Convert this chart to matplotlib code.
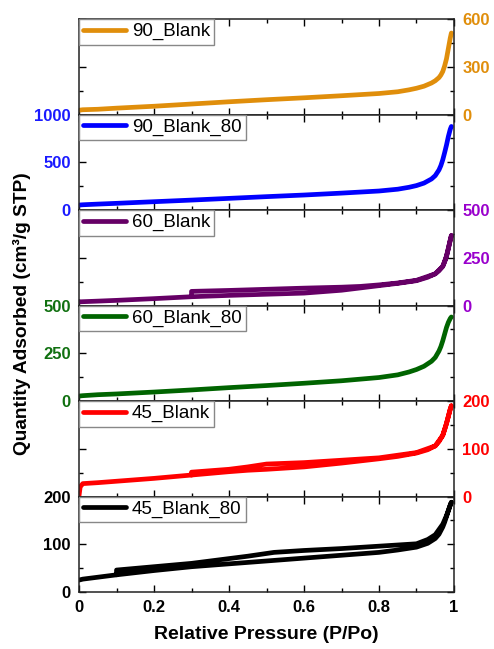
import matplotlib
matplotlib.use("Agg")
import matplotlib.pyplot as plt
from matplotlib.ticker import MultipleLocator, FixedLocator, FixedFormatter

plt.rcParams['font.family'] = ['Liberation Sans', 'DejaVu Sans']

# isotherms, top panel first (adsorption then desorption where there is a loop)
LABELS = ["90_Blank", "90_Blank_80", "60_Blank", "60_Blank_80", "45_Blank", "45_Blank_80"]

P_90 = [0.0, 0.01, 0.05, 0.1, 0.2, 0.3, 0.4, 0.5, 0.6, 0.7, 0.8, 0.85, 0.88, 0.9, 0.92,
        0.94, 0.95, 0.96, 0.965, 0.97, 0.975, 0.98, 0.985, 0.99, 0.993]
Q_90_BLANK = [27, 30, 33, 40, 52, 66, 80, 93, 105, 118, 132, 143, 155, 165, 178,
              198, 212, 232, 248, 270, 305, 350, 415, 480, 512]
Q_90_BLANK_80 = [52, 55, 62, 70, 87, 104, 122, 140, 157, 177, 199, 218, 238, 256, 282,
                 325, 360, 420, 465, 525, 600, 680, 770, 845, 875]
Q_60_BLANK_80 = [26, 28, 33, 37, 47, 58, 70, 81, 93, 106, 123, 137, 152, 165, 182,
                 208, 228, 262, 285, 315, 350, 385, 412, 432, 440]

P_60_BLANK = [0.0, 0.01, 0.05, 0.1, 0.2, 0.3, 0.4, 0.5, 0.6, 0.7, 0.75, 0.8, 0.85, 0.9,
              0.93, 0.95, 0.96, 0.97, 0.975, 0.98, 0.985, 0.99, 0.993,
              0.99, 0.98, 0.97, 0.95, 0.9, 0.85, 0.8, 0.75, 0.7, 0.6, 0.5, 0.4, 0.3, 0.3]
Q_60_BLANK = [19, 20, 23, 27, 36, 46, 53, 59, 65, 80, 92, 104, 116, 130,
              148, 166, 182, 205, 228, 258, 298, 342, 366,
              342, 258, 205, 166, 132, 118, 108, 100, 96, 91, 85, 79, 74, 47]

P_45_BLANK = [0.0, 0.003, 0.01, 0.05, 0.1, 0.2, 0.3, 0.4, 0.45, 0.5, 0.6, 0.7, 0.8, 0.85,
              0.9, 0.93, 0.95, 0.96, 0.97, 0.975, 0.98, 0.985, 0.99, 0.993,
              0.99, 0.98, 0.97, 0.95, 0.9, 0.8, 0.7, 0.6, 0.5, 0.45, 0.4, 0.3, 0.3]
Q_45_BLANK = [2, 20, 27, 29, 32, 38, 45, 52, 55, 57, 62, 70, 79, 84,
              91, 98, 106, 115, 128, 140, 153, 168, 183, 190,
              183, 153, 128, 106, 92, 81, 76, 71, 68, 62, 57, 51, 45]

P_45_BLANK_80 = [0.0, 0.01, 0.05, 0.1, 0.2, 0.3, 0.4, 0.5, 0.6, 0.7, 0.8, 0.85, 0.9,
                 0.93, 0.95, 0.96, 0.97, 0.975, 0.98, 0.985, 0.99, 0.993,
                 0.99, 0.98, 0.97, 0.95, 0.93, 0.9, 0.8, 0.7, 0.6, 0.52, 0.45, 0.4,
                 0.3, 0.2, 0.1, 0.1]
Q_45_BLANK_80 = [25, 27, 31, 36, 45, 53, 59, 65, 71, 77, 83, 88, 94,
                 102, 112, 121, 136, 146, 158, 170, 182, 188,
                 182, 160, 142, 120, 110, 101, 96, 91, 87, 83, 75, 70,
                 60, 53, 46, 36]

X_DATA = [P_90, P_90, P_60_BLANK, P_90, P_45_BLANK, P_45_BLANK_80]
Y_DATA = [Q_90_BLANK, Q_90_BLANK_80, Q_60_BLANK, Q_60_BLANK_80, Q_45_BLANK, Q_45_BLANK_80]

Y_TICKS = [[0, 300, 600], [0, 500, 1000], [0, 250, 500],
           [0, 250, 500], [0, 100, 200], [0, 100, 200]]
LABEL_SIDE = ["right", "left", "right", "left", "right", "left"]

LINE_COLORS = ["#E08E0B", "#0000FF", "#660066", "#006400", "#FF0000", "#000000"]
TICK_COLORS = ["#E08E0B", "#1A1AFF", "#9900CC", "#107010", "#FF0000", "#000000"]

X_TICKS = [0, 0.2, 0.4, 0.6, 0.8, 1.0]
X_TICKLABELS = ["0", "0.2", "0.4", "0.6", "0.8", "1"]

fig, axes = plt.subplots(6, 1, figsize=(4.94, 6.49), dpi=100, sharex=True)
fig.subplots_adjust(left=0.16, right=0.919, top=0.9707, bottom=0.0878, hspace=0)

for i, ax in enumerate(axes):
    ax.plot(X_DATA[i], Y_DATA[i], color=LINE_COLORS[i], lw=3.4, label=LABELS[i],
            solid_joinstyle='round', solid_capstyle='round')
    ax.set_xlim(0, 1)
    ticks = Y_TICKS[i]
    ax.set_ylim(ticks[0], ticks[-1])
    ax.yaxis.set_major_locator(FixedLocator(ticks))
    ax.yaxis.set_minor_locator(MultipleLocator((ticks[1] - ticks[0]) / 2))
    ax.xaxis.set_major_locator(FixedLocator(X_TICKS))
    ax.xaxis.set_minor_locator(MultipleLocator(0.1))
    ax.tick_params(which='both', direction='in', top=True, right=True, width=1)
    ax.tick_params(which='major', length=5)
    ax.tick_params(which='minor', length=3)
    side = LABEL_SIDE[i]
    ax.tick_params(axis='y', which='major', labelleft=(side == 'left'),
                   labelright=(side == 'right'), labelcolor=TICK_COLORS[i],
                   labelsize=12, pad=6)
    for lab in ax.get_yticklabels():
        lab.set_fontweight('bold')
    for sp in ax.spines.values():
        sp.set_linewidth(1.1)
        sp.set_color('#222222')
    leg = ax.legend(loc='upper left', bbox_to_anchor=(0, 1), borderaxespad=0,
                    fancybox=False, framealpha=1, edgecolor='#888888',
                    fontsize=13.5, handlelength=2.3, handletextpad=0.3,
                    borderpad=0.22)
    leg.get_frame().set_linewidth(1)

bottom = axes[-1]
bottom.xaxis.set_major_formatter(FixedFormatter(X_TICKLABELS))
bottom.tick_params(axis='x', which='major', labelsize=12, pad=6)
for lab in bottom.get_xticklabels():
    lab.set_fontweight('bold')
bottom.set_xlabel("Relative Pressure (P/Po)", fontsize=14, fontweight='bold', labelpad=8)

fig.text(22 / 494, 1 - 314 / 649, "Quantity Adsorbed (cm³/g STP)", rotation=90,
         ha='center', va='center', fontsize=13.8, fontweight='bold')

plt.savefig("out.png", dpi=100)
